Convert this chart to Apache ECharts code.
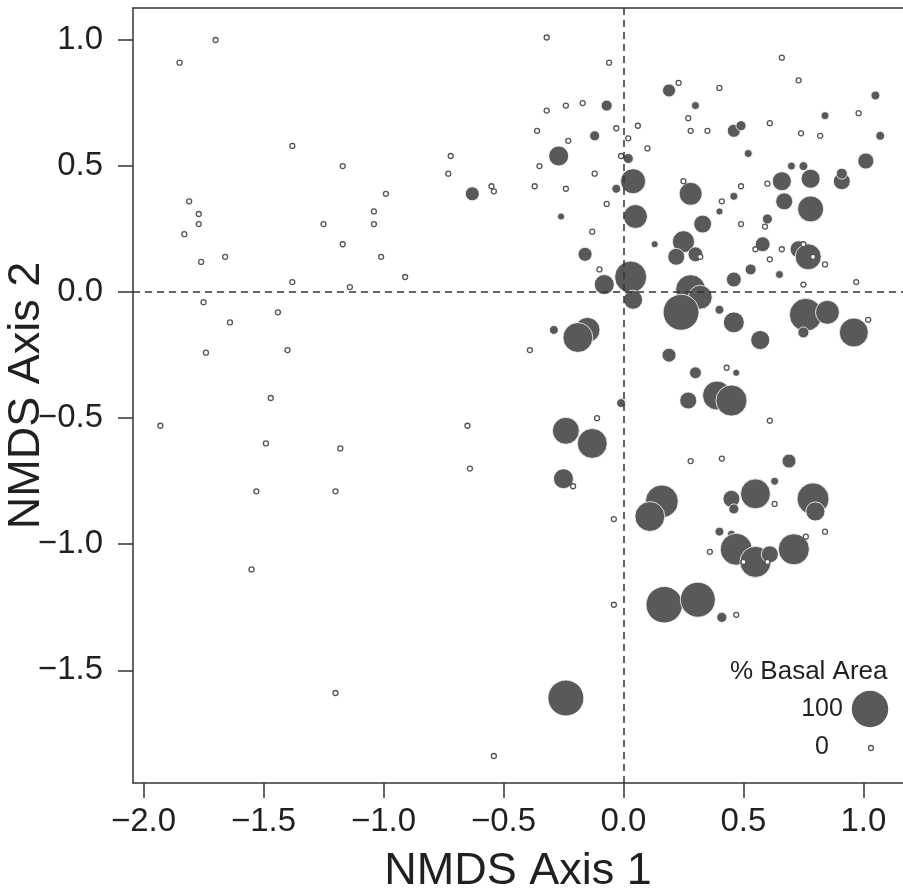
<!DOCTYPE html>
<html>
<head>
<meta charset="utf-8">
<script src="https://cdn.jsdelivr.net/npm/echarts@6/dist/echarts.min.js"></script>
<style>html,body{margin:0;padding:0;background:#fff;}#chart{width:903px;height:892px;}</style>
</head>
<body>
<div id="chart"></div>
<script>
// ---- data ----
const xTicks = [-2.0, -1.5, -1.0, -0.5, 0.0, 0.5, 1.0];
const yTicks = [-1.5, -1.0, -0.5, 0.0, 0.5, 1.0];
const xTitle = 'NMDS Axis 1';
const yTitle = 'NMDS Axis 2';
const legendTitle = '% Basal Area';
const legendValues = [100, 0];

// plots with 0 % basal area: [axis1, axis2]
const hollowPoints = [
  [-1.85,0.91],[-1.70,1.00],[-1.38,0.58],[-1.17,0.50],[-0.73,0.47],[-0.72,0.54],
  [-1.81,0.36],[-1.77,0.31],[-1.77,0.27],[-1.83,0.23],[-1.76,0.12],[-1.66,0.14],
  [-1.75,-0.04],[-1.25,0.27],[-1.17,0.19],[-1.04,0.32],[-1.04,0.27],[-0.99,0.39],
  [-1.01,0.14],[-0.91,0.06],[-1.38,0.04],[-1.14,0.02],[-1.44,-0.08],[-1.64,-0.12],
  [-1.74,-0.24],[-1.40,-0.23],[-1.47,-0.42],[-1.93,-0.53],[-1.49,-0.60],[-1.18,-0.62],
  [-1.53,-0.79],[-1.20,-0.79],[-1.55,-1.10],[-1.20,-1.59],
  [-0.04,-1.24],[0.47,-1.28],[-0.54,-1.84],[-0.32,1.01],[-0.06,0.91],[0.23,0.83],
  [0.40,0.81],[0.66,0.93],[0.73,0.84],[0.98,0.71],[0.74,0.63],[0.82,0.62],
  [0.61,0.67],[0.35,0.64],[0.28,0.64],[0.27,0.69],[0.06,0.66],[0.02,0.61],
  [-0.03,0.65],[0.10,0.57],[-0.17,0.75],[-0.24,0.74],[-0.32,0.72],[-0.36,0.64],
  [-0.23,0.60],[-0.35,0.50],[-0.01,0.54],[-0.12,0.47],[-0.24,0.41],[-0.37,0.42],
  [-0.55,0.42],[-0.54,0.40],[-0.07,0.35],[-0.13,0.24],[-0.10,0.09],[0.25,0.44],
  [0.49,0.42],[0.41,0.36],[0.49,0.27],[0.32,0.14],[0.55,0.17],[0.61,0.13],
  [0.66,0.17],[0.59,0.26],[0.60,0.43],[0.75,0.19],[0.79,0.14],[0.84,0.11],
  [0.75,0.03],[0.97,0.04],[1.02,-0.11],[-0.39,-0.23],[0.43,-0.30],[0.61,-0.51],
  [-0.65,-0.53],[-0.11,-0.50],[-0.64,-0.70],[-0.21,-0.77],[0.28,-0.67],[0.41,-0.66],
  [0.63,-0.84],[-0.04,-0.90],[0.36,-1.03],[0.50,-1.07],[0.60,-1.07],[0.76,-0.97],
  [0.84,-0.95]
];

// plots with basal area > 0: [axis1, axis2, % basal area]
const filledPoints = [
  [0.17,-1.24,100],[0.31,-1.22,95],[0.41,-1.29,12],[-0.24,-1.61,98],
  [0.19,0.80,22],[1.05,0.78,8],[0.84,0.70,5],[1.07,0.62,8],[0.46,0.64,22],[0.49,0.66,12],
  [0.30,0.74,5],[0.52,0.55,5],[-0.07,0.74,15],[-0.12,0.62,12],[-0.27,0.54,45],[0.02,0.53,12],
  [0.04,0.44,62],[-0.03,0.41,8],[-0.63,0.39,25],[0.05,0.30,58],[-0.26,0.30,2],[-0.16,0.15,25],
  [0.03,0.06,85],[-0.08,0.03,45],[0.04,-0.03,42],[0.13,0.19,2],[0.28,0.39,55],[0.46,0.38,5],
  [0.40,0.32,2],[0.33,0.27,38],[0.25,0.20,52],[0.22,0.14,35],[0.30,0.15,28],[0.40,-0.07,8],
  [0.46,0.05,28],[0.53,0.09,15],[0.65,0.07,5],[0.58,0.19,28],[0.60,0.29,12],[0.66,0.44,42],
  [0.70,0.50,5],[0.75,0.50,8],[0.78,0.45,42],[0.67,0.36,35],[0.78,0.33,65],[0.91,0.44,35],
  [0.91,0.47,15],[1.01,0.52,32],[0.73,0.17,35],[0.77,0.14,65],
  [0.28,0.01,78],[0.32,-0.02,58],[0.24,-0.08,98],[0.46,-0.12,48],[0.57,-0.19,42],
  [0.76,-0.09,88],[0.85,-0.08,58],[0.75,-0.16,15],[0.96,-0.16,75],[-0.29,-0.15,8],
  [-0.15,-0.15,62],[-0.19,-0.18,78],[0.19,-0.25,25],[0.30,-0.32,18],[0.47,-0.32,2],
  [0.27,-0.43,35],[0.39,-0.41,75],[0.45,-0.43,82],[-0.01,-0.44,8],[-0.24,-0.55,68],
  [-0.13,-0.60,78],[-0.25,-0.74,45],[0.69,-0.67,25],[0.63,-0.75,5],[0.55,-0.80,78],
  [0.45,-0.82,35],[0.46,-0.86,12],[0.79,-0.82,85],[0.80,-0.87,42],[0.16,-0.83,88],
  [0.11,-0.89,78],[0.40,-0.95,8],[0.45,-0.96,5],[0.47,-1.02,85],[0.55,-1.07,82],
  [0.61,-1.04,35],[0.71,-1.02,82]
];

// ---- rendering ----
const TEXT = '#231f20';
const LINE = '#333333';
const FILL = '#58595b';
const FONT = '"Liberation Sans", Arial, Helvetica, sans-serif';
const sizeOf = v => v <= 0 ? 5 : 6.5 + 0.30 * v;
const fmt = v => (v < 0 ? '\u2212' : '') + Math.abs(v).toFixed(1);

const chart = echarts.init(document.getElementById('chart'), null, {renderer: 'canvas'});
const XMIN = -2.044, XMAX = 1.165, YMIN = -1.947, YMAX = 1.127;

chart.setOption({
  backgroundColor: '#ffffff',
  animation: false,
  grid: {left: 133, top: 8, right: 0, bottom: 109, outerBoundsMode: 'none', containLabel: false},
  xAxis: [{
    type: 'value', min: XMIN, max: XMAX, position: 'bottom',
    name: xTitle, nameLocation: 'middle', nameGap: 66, nameMoveOverlap: false,
    nameTextStyle: {fontFamily: FONT, fontSize: 45, color: TEXT},
    axisLine: {show: true, onZero: false, lineStyle: {color: LINE, width: 1.5}},
    axisTick: {show: true, inside: false, length: 15, customValues: xTicks, lineStyle: {color: LINE, width: 1.5}},
    axisLabel: {show: true, margin: 22, customValues: xTicks, formatter: fmt,
      fontFamily: FONT, fontSize: 33, color: TEXT, showMinLabel: true, showMaxLabel: true},
    splitLine: {show: false}
  }, {
    type: 'value', min: XMIN, max: XMAX, position: 'top',
    axisLine: {show: true, onZero: false, lineStyle: {color: LINE, width: 1.5}},
    axisTick: {show: false}, axisLabel: {show: false}, splitLine: {show: false}
  }],
  yAxis: {
    type: 'value', min: YMIN, max: YMAX,
    name: yTitle, nameLocation: 'middle', nameGap: 84, nameRotate: 90, nameMoveOverlap: false,
    nameTextStyle: {fontFamily: FONT, fontSize: 45, color: TEXT},
    axisLine: {show: true, onZero: false, lineStyle: {color: LINE, width: 1.5}},
    axisTick: {show: true, inside: false, length: 15, customValues: yTicks, lineStyle: {color: LINE, width: 1.5}},
    axisLabel: {show: true, margin: 30, customValues: yTicks, formatter: fmt,
      fontFamily: FONT, fontSize: 33, color: TEXT},
    splitLine: {show: false}
  },
  series: [{
    type: 'scatter', name: 'basal', xAxisIndex: 0,
    data: filledPoints,
    symbol: 'circle',
    symbolSize: v => sizeOf(v[2]),
    itemStyle: {color: FILL, borderColor: '#ffffff', borderWidth: 0.8, opacity: 1},
    markLine: {
      silent: true, symbol: 'none', animation: false,
      label: {show: false},
      lineStyle: {color: LINE, width: 1.5, type: [7, 5]},
      emphasis: {disabled: true},
      data: [{xAxis: 0}, {yAxis: 0}]
    },
    z: 2
  }, {
    type: 'scatter', name: 'zero', xAxisIndex: 0,
    data: hollowPoints,
    symbol: 'circle',
    symbolSize: sizeOf(0),
    itemStyle: {color: '#ffffff', borderColor: '#555555', borderWidth: 1.3, opacity: 1},
    z: 3
  }],
  graphic: [
    {type: 'text', x: 730, y: 672, style: {text: legendTitle, font: '26px ' + FONT, fill: TEXT, verticalAlign: 'middle'}},
    {type: 'text', x: 822, y: 709, style: {text: String(legendValues[0]), font: '25px ' + FONT, fill: TEXT, align: 'center', verticalAlign: 'middle'}},
    {type: 'text', x: 822, y: 747, style: {text: String(legendValues[1]), font: '25px ' + FONT, fill: TEXT, align: 'center', verticalAlign: 'middle'}},
    {type: 'circle', shape: {cx: 870, cy: 709, r: sizeOf(legendValues[0]) / 2}, style: {fill: FILL}},
    {type: 'circle', shape: {cx: 871, cy: 748, r: sizeOf(legendValues[1]) / 2}, style: {fill: '#ffffff', stroke: '#555555', lineWidth: 1.3}}
  ]
});
</script>
</body>
</html>
